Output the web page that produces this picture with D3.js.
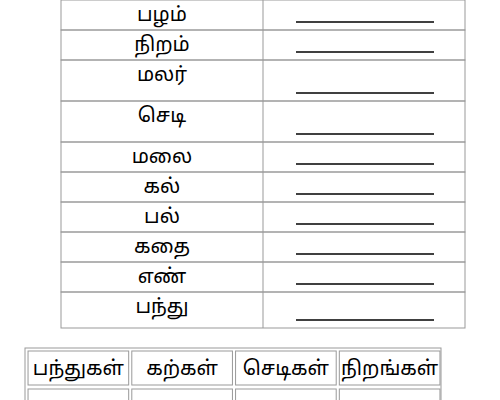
<!DOCTYPE html>
<html><head><meta charset="utf-8">
<script src="https://cdn.jsdelivr.net/npm/d3@7"></script>
<style>body{margin:0;background:#fff}text{font-family:"Noto Sans","Noto Sans Tamil",sans-serif}</style>
</head><body><div id="viz"></div>
<script>
// worksheet words
const words = ['பழம்', 'நிறம்', 'மலர்', 'செடி', 'மலை', 'கல்', 'பல்', 'கதை', 'எண்', 'பந்து'];
const rowBounds = [0, 30, 60, 101, 142, 172, 202, 232, 262, 292, 328];
const plurals = ['பந்துகள்', 'கற்கள்', 'செடிகள்', 'நிறங்கள்'];

const svg = d3.select('#viz').append('svg').attr('width', 500).attr('height', 400);

// top table
const y = d3.scaleLinear().domain([0, 328]).range([0, 328]);
const x0 = 61, x1 = 263, x2 = 465;
const rows = svg.append('g').selectAll('g').data(words).join('g');
rows.append('rect')
  .attr('x', x0).attr('width', x2 - x0)
  .attr('y', (d, i) => y(rowBounds[i])).attr('height', (d, i) => y(rowBounds[i + 1]) - y(rowBounds[i]))
  .attr('fill', 'none').attr('stroke', '#999');
rows.append('line')
  .attr('x1', x1).attr('x2', x1)
  .attr('y1', (d, i) => y(rowBounds[i])).attr('y2', (d, i) => y(rowBounds[i + 1]))
  .attr('stroke', '#999');
rows.append('text')
  .attr('x', (x0 + x1) / 2).attr('y', (d, i) => y(rowBounds[i]) + 21)
  .attr('text-anchor', 'middle').attr('font-size', 20).text(d => d);
rows.append('line')
  .attr('x1', 296).attr('x2', 434)
  .attr('y1', (d, i) => y(rowBounds[i + 1]) - 8).attr('y2', (d, i) => y(rowBounds[i + 1]) - 8)
  .attr('stroke', '#000').attr('stroke-width', 1.3);

// bottom table
const bx = d3.scaleBand().domain(plurals).range([27, 441]).paddingInner(0.03).paddingOuter(0.01);
svg.append('rect').attr('x', 25).attr('y', 348).attr('width', 416).attr('height', 60)
  .attr('fill', 'none').attr('stroke', '#999');
const cells = svg.append('g').selectAll('g').data(plurals).join('g');
cells.append('rect').attr('x', d => bx(d)).attr('y', 351).attr('width', bx.bandwidth()).attr('height', 34)
  .attr('fill', 'none').attr('stroke', '#999');
cells.append('rect').attr('x', d => bx(d)).attr('y', 389).attr('width', bx.bandwidth()).attr('height', 30)
  .attr('fill', 'none').attr('stroke', '#999');
cells.append('text').attr('x', d => bx(d) + bx.bandwidth() / 2).attr('y', 375)
  .attr('text-anchor', 'middle').attr('font-size', 20).text(d => d);
</script></body></html>
